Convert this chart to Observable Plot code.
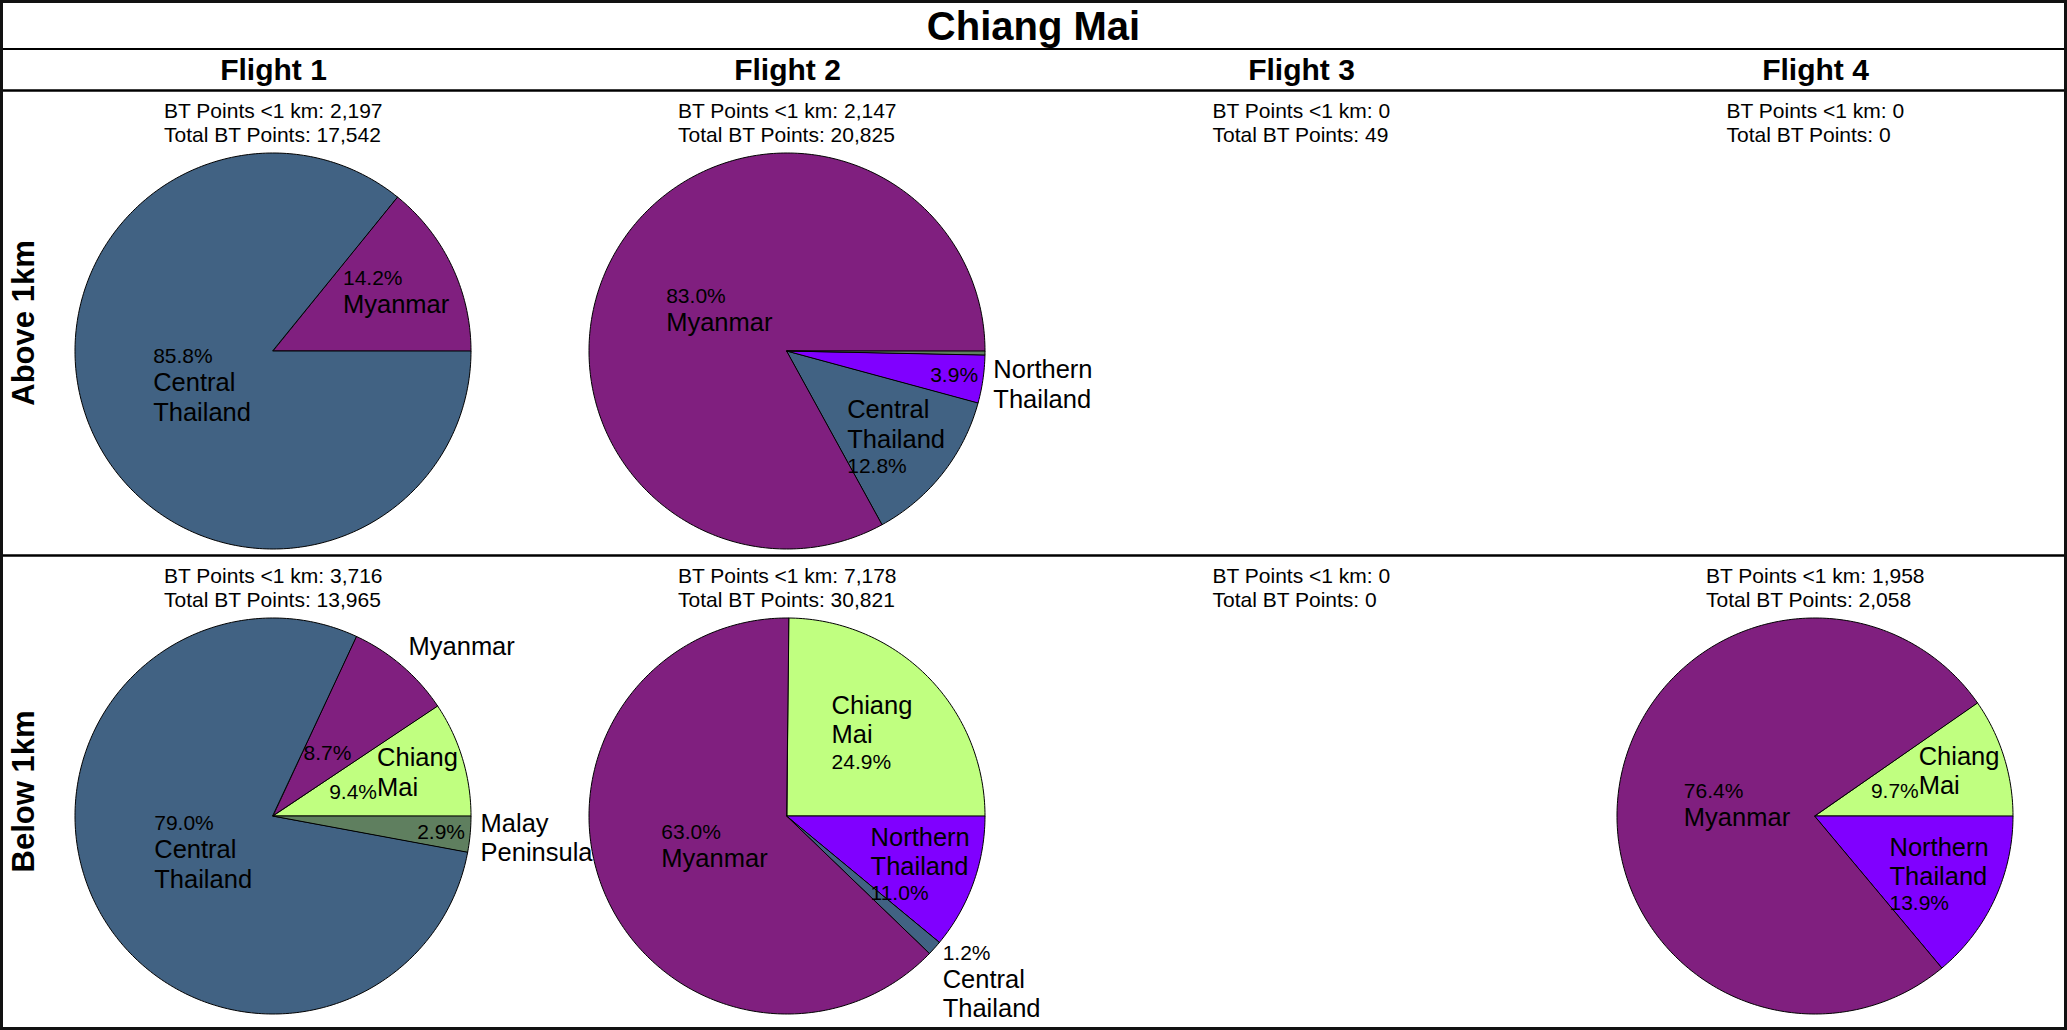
<!DOCTYPE html>
<html><head><meta charset="utf-8">
<script src="https://cdn.jsdelivr.net/npm/d3@7"></script>
<script src="https://cdn.jsdelivr.net/npm/@observablehq/plot@0.6"></script>
<style>
html,body{margin:0;padding:0;background:#fff;}
#fig{position:relative;width:2067px;height:1030px;background:#fff;font-family:"Liberation Sans",Arial,sans-serif;overflow:hidden;}
#title{position:absolute;left:0;top:0;width:2067px;height:48px;border-bottom:2.5px solid #000;text-align:center;font-weight:bold;font-size:40px;line-height:52px;color:#000;}
#chart{position:absolute;left:0;top:50px;}
#frame{position:absolute;left:0;top:0;width:2067px;height:1030px;border:3px solid #111;box-sizing:border-box;pointer-events:none;}
</style></head>
<body><div id="fig"><div id="title">Chiang Mai</div><div id="chart"></div><div id="frame"></div></div>
<script>
// ---------- data ----------
const flights = ["Flight 1", "Flight 2", "Flight 3", "Flight 4"];
const altitudes = ["Above 1km", "Below 1km"];
const regions = ["Chiang Mai", "Myanmar", "Central Thailand", "Northern Thailand", "Malay Peninsula"];
const regionColors = ["#c0ff80", "#801f7f", "#416283", "#8000ff", "#5f7f5f"];
// BT point counts by flight
const nearAbove = [2197, 2147, 0, 0];
const totalAbove = [17542, 20825, 49, 0];
const nearBelow = [3716, 7178, 0, 1958];
const totalBelow = [13965, 30821, 0, 2058];
// region shares (%) in region order, one array per pie
const shareAboveF1 = [0, 14.2, 85.8, 0, 0];
const shareAboveF2 = [0, 83.0, 12.8, 3.9, 0.3];
const shareBelowF1 = [9.4, 8.7, 79.0, 0, 2.9];
const shareBelowF2 = [24.9, 63.0, 1.2, 11.0, 0];
const shareBelowF4 = [9.7, 76.4, 0, 13.9, 0];

const pies = [
  {row: 0, flight: "Flight 1", shares: shareAboveF1},
  {row: 0, flight: "Flight 2", shares: shareAboveF2},
  {row: 1, flight: "Flight 1", shares: shareBelowF1},
  {row: 1, flight: "Flight 2", shares: shareBelowF2},
  {row: 1, flight: "Flight 4", shares: shareBelowF4}
];
const nearCounts = [nearAbove, nearBelow];
const totalCounts = [totalAbove, totalBelow];

// ---------- layout ----------
const W = 2067, H = 980;
const headerY = 20, headerLine = 40;
const rowTop = [40, 505], rowBottom = [505, 977];
const col = d3.scaleBand(flights, [16, 2072]);
const colCenter = f => col(f) + col.bandwidth() / 2;
const R = 198;
const pieDy = 261;
const FONT = '"Liberation Sans", Arial, sans-serif';
const PCT = 21, NAME = 25.5;

const ctx = document.createElement("canvas").getContext("2d");
function tw(s, size, weight = "normal") { ctx.font = `${weight} ${size}px ${FONT}`; return ctx.measureText(s).width; }

const wedgePts = [];
const labels = [];

function placeBlock(lines, px, py, mode, mid) {
  const hs = lines.map(l => l.size * 1.15);
  const hb = d3.sum(hs);
  const w = d3.max(lines, l => tw(l.t, l.size));
  let left, top;
  if (mode === "center") { left = px - w / 2; top = py - hb / 2; }
  else { left = Math.cos(mid) >= 0 ? px : px - w; top = py - hb * (0.5 + 0.5 * Math.sin(mid)); }
  let acc = top;
  lines.forEach((l, i) => { labels.push({x: left, y: acc + hs[i] / 2, text: l.t, size: l.size}); acc += hs[i]; });
}

pies.forEach((p, pi) => {
  const cx = colCenter(p.flight), cy = rowTop[p.row] + pieDy;
  const sum = d3.sum(p.shares);
  let a = 0;
  p.shares.forEach((s, ri) => {
    if (s <= 0) return;
    const span = s / sum * 2 * Math.PI;
    const a0 = a, a1 = a + span; a = a1;
    const id = `${pi}-${ri}`;
    const n = Math.max(2, Math.ceil(span / (Math.PI / 180)));
    for (let k = 0; k <= n; k++) {
      const t = a0 + span * k / n;
      wedgePts.push({id, region: regions[ri], cx, cy, x: cx + R * Math.cos(t), y: cy - R * Math.sin(t)});
    }
    // labels
    const frac = s / sum;
    if (frac < 0.01) return;
    const mid = (a0 + a1) / 2;
    const at = k => [cx + k * R * Math.cos(mid), cy - k * R * Math.sin(mid)];
    const chord = k => span >= Math.PI ? Infinity : 2 * k * R * Math.sin(span / 2);
    const pct = {t: s.toFixed(1) + "%", size: PCT};
    const names = regions[ri].split(" ").map(t => ({t, size: NAME}));
    const nameW = d3.max(names, l => tw(l.t, l.size));
    if (frac >= 0.5) {
      placeBlock([pct, ...names], ...at(0.4), "center", mid);
    } else if (frac >= 0.1) {
      const lines = (frac < 0.2 && Math.sin(mid) > 0) ? [pct, ...names] : [...names, pct];
      placeBlock(lines, ...at(0.8 - 0.8 * frac), "center", mid);
    } else if (frac >= 0.05) {
      placeBlock([pct], ...at(0.42), "center", mid);
      if (chord(0.76) >= nameW) placeBlock(names, ...at(0.76), "center", mid);
      else placeBlock(names, ...at(1.05), "outside", mid);
    } else {
      if (chord(0.85) >= 17) {
        placeBlock([pct], ...at(0.85), "center", mid);
        placeBlock(names, ...at(1.05), "outside", mid);
      } else {
        placeBlock([pct, ...names], ...at(1.05), "outside", mid);
      }
    }
  });
});

// count text blocks
const fmt = d3.format(",");
const countBlocks = [];
altitudes.forEach((alt, r) => {
  flights.forEach((f, i) => {
    const l1 = `BT Points <1 km: ${fmt(nearCounts[r][i])}`;
    const l2 = `Total BT Points: ${fmt(totalCounts[r][i])}`;
    const w = Math.max(tw(l1, 21), tw(l2, 21));
    countBlocks.push({x: colCenter(f) - w / 2, y: rowTop[r] + 32, text: l1 + "\n" + l2});
  });
});

const chart = Plot.plot({
  width: W, height: H, margin: 0,
  x: {domain: [0, W], range: [0, W], axis: null},
  y: {domain: [0, H], range: [0, H], axis: null},
  color: {domain: regions, range: regionColors},
  style: {fontFamily: FONT, background: "transparent", overflow: "visible", color: "#000"},
  marks: [
    Plot.ruleY([headerLine, rowTop[1]], {x1: 0, x2: W, stroke: "#000", strokeWidth: 2.5}),
    Plot.text(flights, {x: d => colCenter(d), y: headerY, text: d => d, fontSize: 30, fontWeight: "bold", fill: "#000"}),
    Plot.text(altitudes, {x: 24, y: (d, i) => (rowTop[i] + rowBottom[i]) / 2, text: d => d, rotate: -90, fontSize: 31, fontWeight: "bold", fill: "#000"}),
    Plot.text(countBlocks, {x: "x", y: "y", text: "text", textAnchor: "start", lineAnchor: "middle", fontSize: 21, lineHeight: 1.14, fill: "#000"}),
    Plot.area(wedgePts, {x1: "cx", y1: "cy", x2: "x", y2: "y", z: "id", fill: "region", stroke: "#000", strokeWidth: 1, fillOpacity: 1}),
    Plot.text(labels, {x: "x", y: "y", text: "text", fontSize: d => d.size, textAnchor: "start", lineAnchor: "middle", fill: "#000"})
  ]
});
document.getElementById("chart").appendChild(chart);
</script>
</body></html>
